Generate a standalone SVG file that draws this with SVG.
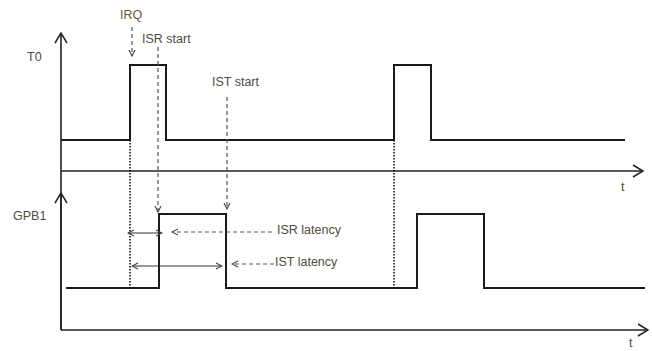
<svg xmlns="http://www.w3.org/2000/svg" width="652" height="351" viewBox="0 0 652 351">
<defs>
<marker id="open" markerWidth="12" markerHeight="14" refX="11" refY="7" orient="auto" markerUnits="userSpaceOnUse">
<path d="M1,1 L11,7 L1,13" fill="none" stroke="#222" stroke-width="1.5"/>
</marker>
<marker id="small" markerWidth="8" markerHeight="8" refX="7" refY="4" orient="auto" markerUnits="userSpaceOnUse">
<path d="M1,1 L7,4 L1,7" fill="none" stroke="#444" stroke-width="1.1"/>
</marker>
<marker id="smallS" markerWidth="8" markerHeight="8" refX="1" refY="4" orient="auto" markerUnits="userSpaceOnUse">
<path d="M7,1 L1,4 L7,7" fill="none" stroke="#444" stroke-width="1.1"/>
</marker>
</defs>
<style>
.axis{fill:none;stroke:#222;stroke-width:1.6}
.sig{fill:none;stroke:#1a1a1a;stroke-width:2}
.dot{fill:none;stroke:#111;stroke-width:1.6;stroke-dasharray:1.5 1.5}
.dash{fill:none;stroke:#555;stroke-width:1.2;stroke-dasharray:4 3}
.dim{fill:none;stroke:#333;stroke-width:1.2}
text{font-family:"Liberation Sans",Arial,sans-serif;font-size:12.5px;fill:#4f4c40}
</style>
<rect width="652" height="351" fill="#fff"/>
<g id="axes">
<line class="axis" x1="61" y1="330" x2="61" y2="33" marker-end="url(#open)"/>
<line class="axis" x1="61" y1="330" x2="61" y2="193" marker-end="url(#open)"/>
<line class="axis" x1="61" y1="171" x2="643" y2="171" marker-end="url(#open)"/>
<line class="axis" x1="61" y1="330" x2="648" y2="330" marker-end="url(#open)"/>
<text x="27" y="61">T0</text>
<text x="13" y="220">GPB1</text>
<text x="621" y="191">t</text>
<text x="629" y="347">t</text>
</g>
<g id="T0">
<path class="sig" d="M61,140 H130 V65 H166 V140 H394 V65 H431 V140 H625"/>
</g>
<g id="GPB1">
<path class="sig" d="M66,288 H159 V214 H226 V288 H417 V214 H484 V288 H645"/>
</g>
<g id="connectors">
<line class="dot" x1="130" y1="140" x2="130" y2="288"/>
<line class="dot" x1="394" y1="140" x2="394" y2="288"/>
<line class="dash" x1="132" y1="27" x2="132" y2="56" marker-end="url(#small)"/>
<line class="dash" x1="158" y1="47" x2="158" y2="212" marker-end="url(#small)"/>
<line class="dash" x1="227" y1="97" x2="227" y2="209" marker-end="url(#small)"/>
<line class="dim" x1="128" y1="233" x2="162" y2="233" marker-start="url(#smallS)" marker-end="url(#small)"/>
<line class="dim" x1="132" y1="266" x2="222" y2="266" marker-start="url(#smallS)" marker-end="url(#small)"/>
<line class="dash" x1="272" y1="232" x2="172" y2="232" marker-end="url(#small)"/>
<line class="dash" x1="274" y1="264" x2="232" y2="264" marker-end="url(#small)"/>
</g>
<g id="labels">
<text x="120" y="19" style="fill:#6b5a2e">IRQ</text>
<text x="142" y="43">ISR start</text>
<text x="212" y="86">IST start</text>
<text x="277" y="234">ISR latency</text>
<text x="275" y="266">IST latency</text>
</g>
</svg>
